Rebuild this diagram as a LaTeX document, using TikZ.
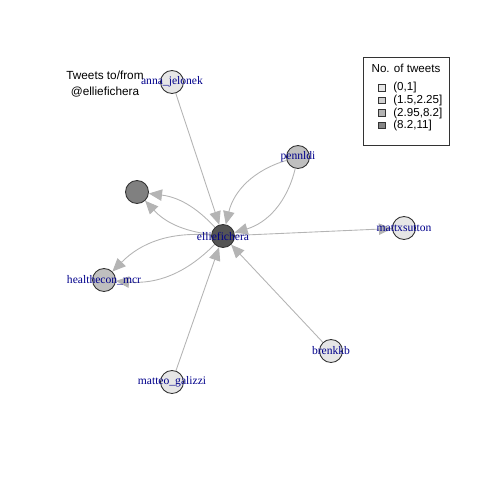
\documentclass[tikz,border=0pt]{standalone}
\usepackage{fontspec}
\setmainfont{Liberation Serif}
\setsansfont{Liberation Sans}
\usepackage{xcolor}
\usetikzlibrary{arrows.meta,positioning,backgrounds}
\definecolor{tweetA}{HTML}{E6E6E6}
\definecolor{tweetB}{HTML}{CFCFCF}
\definecolor{tweetC}{HTML}{B3B3B3}
\definecolor{tweetD}{HTML}{858585}
\definecolor{labelblue}{HTML}{00008B}
\definecolor{edgegray}{HTML}{B4B4B4}

\begin{document}
\begin{tikzpicture}[
    x=0.02cm, y=-0.02cm,
    vert/.style={
        circle, draw=black!80, line width=0.5pt, fill=#1,
        minimum size=0.46cm, inner sep=0pt
    },
    lbl/.style={font=\fontsize{6.6}{7}\selectfont, text=labelblue, inner sep=0pt},
    arr/.style={-{Triangle[length=7.5pt, width=6.5pt]}, line width=0.5pt, edgegray},
    legbox/.style={draw=black!80, line width=0.4pt, fill=#1, minimum size=0.13cm, inner sep=0pt},
    legtext/.style={font=\sffamily\fontsize{6.6}{8}\selectfont, anchor=west, inner sep=0pt},
]
\useasboundingbox (0,0) rectangle (480,480);

% Centre
\node[vert=black!67] (ellie) at (223,236) {};

% Neighbours
\node[vert=tweetA] (anna) at (172,82) {};
\node[vert=black!50] (anon) at (137,192) {};
\node[vert=black!25] (penn) at (298,157) {};
\node[vert=tweetA] (matt) at (404,228) {};
\node[vert=black!25] (health) at (104,280) {};
\node[vert=tweetA] (brenk) at (331,351) {};
\node[vert=tweetA] (matteo) at (172,382) {};

% Labels
\node[lbl] at (ellie) {elliefichera};
\node[lbl] at (anna) {anna\_jelonek};
\node[lbl] at (penn) {pennldi};
\node[lbl] at (matt) {mattxsutton};
\node[lbl] at (health) {healthecon\_mcr};
\node[lbl] at (brenk) {brenkkb};
\node[lbl] at (matteo) {matteo\_galizzi};

% Arrows
\begin{scope}[on background layer]
\draw[arr] (anna) -- (ellie);
\draw[arr] (penn) to[bend left=30] (ellie);
\draw[arr] (penn) to[bend right=30] (ellie);
\draw[arr] (ellie) -- (matt);
\draw[arr] (brenk) -- (ellie);
\draw[arr] (matteo) -- (ellie);
\draw[arr] (ellie) to[bend left=20] (anon);
\draw[arr] (ellie) to[bend right=20] (anon);
\draw[arr] (ellie) to[bend left=25] (health);
\draw[arr] (ellie) to[bend right=25] (health);
\end{scope}

% Title
\node[font=\sffamily\fontsize{6.7}{9.6}\selectfont, align=center] (title) at (105,84)
    {Tweets to/from\\@elliefichera};

% Legend
\node[draw=black!80, line width=0.5pt, minimum width=1.72cm, minimum height=1.76cm, inner sep=0pt] (legend) at (406,101) {};
\node[font=\sffamily\fontsize{6.6}{8}\selectfont] (legtitle) at (406,68) {No. of tweets};
\node[legbox=tweetA] (leg1) at (382,88) {};
\node[legbox=tweetB] (leg2) at (382,100.5) {};
\node[legbox=tweetC] (leg3) at (382,113) {};
\node[legbox=tweetD] (leg4) at (382,125.5) {};
\node[legtext] at (393,88) {(0,1]};
\node[legtext] at (393,100.5) {(1.5,2.25]};
\node[legtext] at (393,113) {(2.95,8.2]};
\node[legtext] at (393,125.5) {(8.2,11]};
\end{tikzpicture}
\end{document}
